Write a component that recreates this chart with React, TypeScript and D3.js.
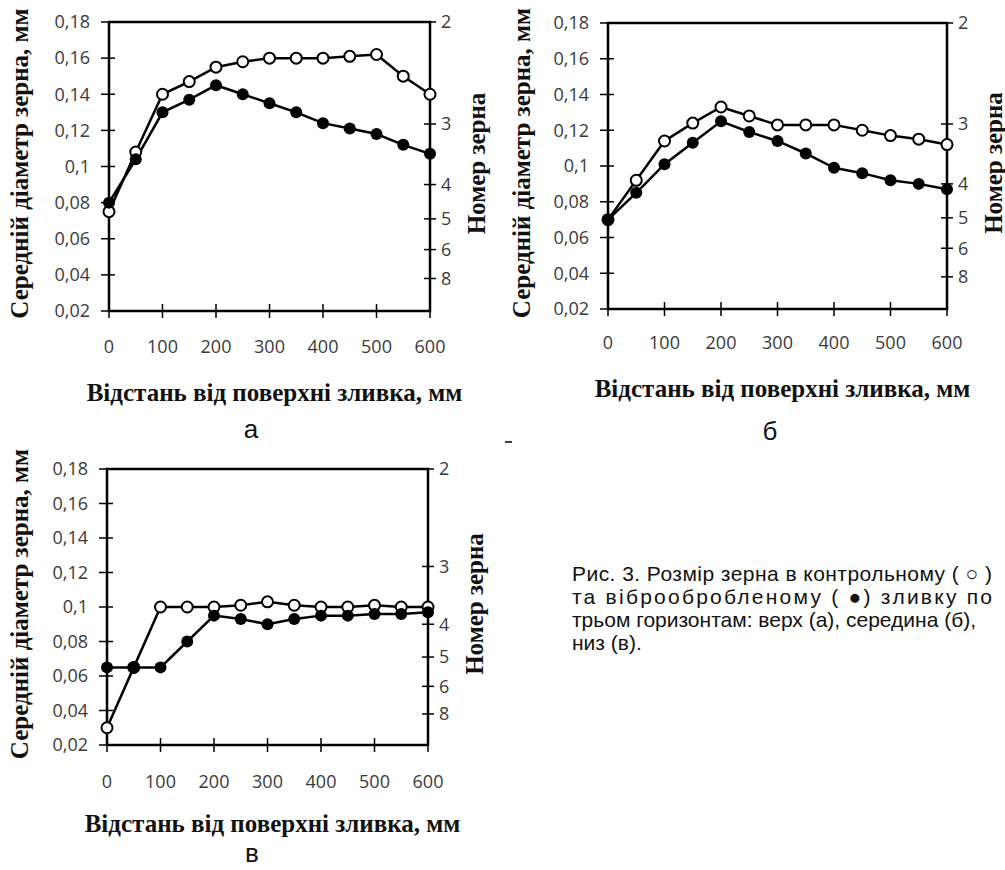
import React from 'react';
import * as d3 from 'd3';

// ---- data ----
const distances = [0, 50, 100, 150, 200, 250, 300, 350, 400, 450, 500, 550, 600];
const xTickValues = [0, 100, 200, 300, 400, 500, 600];
const yTickValues = [0.02, 0.04, 0.06, 0.08, 0.1, 0.12, 0.14, 0.16, 0.18];
const grainLabels = ['2', '3', '4', '5', '6', '8'];
const grainDiameters = [0.18, 0.1235, 0.09, 0.071, 0.054, 0.038];

const controlTop = [0.075, 0.108, 0.14, 0.147, 0.155, 0.158, 0.16, 0.16, 0.16, 0.161, 0.162, 0.15, 0.14];
const vibroTop = [0.08, 0.104, 0.13, 0.137, 0.145, 0.14, 0.135, 0.13, 0.124, 0.121, 0.118, 0.112, 0.107];

const controlMiddle = [0.07, 0.092, 0.114, 0.124, 0.133, 0.128, 0.123, 0.123, 0.123, 0.12, 0.117, 0.115, 0.112];
const vibroMiddle = [0.07, 0.085, 0.101, 0.113, 0.125, 0.119, 0.114, 0.107, 0.099, 0.096, 0.092, 0.09, 0.087];

const controlBottom = [0.03, 0.065, 0.1, 0.1, 0.1, 0.101, 0.103, 0.101, 0.1, 0.1, 0.101, 0.1, 0.1];
const vibroBottom = [0.065, 0.065, 0.065, 0.08, 0.095, 0.093, 0.09, 0.093, 0.095, 0.095, 0.096, 0.096, 0.097];

const yTitle = 'Середній діаметр зерна, мм';
const y2Title = 'Номер зерна';
const xTitle = 'Відстань від поверхні зливка, мм';
const captionLines = [
  'Рис. 3. Розмір зерна в контрольному ( ○ )',
  'та віброобробленому ( ●) зливку по',
  'трьом горизонтам: верх (а), середина (б),',
  'низ (в).',
];

// ---- layout ----
const panels = [
  { id: 'a', label: 'а', control: controlTop, vibro: vibroTop,
    left: 109, right: 430, top: 22, bottom: 311,
    xLabelDy: 42, xTitleY: 401, yTitleX: 28, y2TitleX: 467, labelX: 251, labelY: 438 },
  { id: 'b', label: 'б', control: controlMiddle, vibro: vibroMiddle,
    left: 608, right: 947, top: 23, bottom: 309,
    xLabelDy: 40, xTitleY: 397, yTitleX: 530, y2TitleX: 984, labelX: 770, labelY: 440 },
  { id: 'c', label: 'в', control: controlBottom, vibro: vibroBottom,
    left: 107, right: 428, top: 469, bottom: 745,
    xLabelDy: 43, xTitleY: 832, yTitleX: 28, y2TitleX: 465, labelX: 252, labelY: 862 },
];

const fmt = (v: number) => String(+v.toFixed(2)).replace('.', ',');

function Panel({ p }: { p: any }) {
  const x = d3.scaleLinear().domain([0, 600]).range([p.left, p.right]);
  const y = d3.scaleLinear().domain([0.02, 0.18]).range([p.bottom, p.top]);
  const line = d3.line<number>().x((_, i) => x(distances[i])).y((d) => y(d));
  const tickFont = { fontFamily: 'Open Sans, sans-serif', fontSize: 18, fill: '#3a3a3a' };
  const titleFont = { fontFamily: 'Liberation Serif, serif', fontWeight: 'bold' as const, fontSize: 25, fill: '#111' };
  const cx = (p.left + p.right) / 2;
  const cy = (p.top + p.bottom) / 2;
  return (
    <g>
      <rect x={p.left} y={p.top} width={p.right - p.left} height={p.bottom - p.top}
        fill="none" stroke="#000" strokeWidth={2.5} />
      {yTickValues.map((v) => (
        <g key={'y' + v}>
          <line x1={p.left - 8} x2={p.left + 6} y1={y(v)} y2={y(v)} stroke="#000" strokeWidth={1.5} />
          <text x={p.left - 19} y={y(v)} dy="0.35em" textAnchor="end" style={tickFont}>{fmt(v)}</text>
        </g>
      ))}
      {grainDiameters.map((v, i) => (
        <g key={'g' + i}>
          <line x1={p.right - 6} x2={p.right + 6} y1={y(v)} y2={y(v)} stroke="#000" strokeWidth={1.5} />
          <text x={p.right + 11} y={y(v)} dy="0.35em" textAnchor="start" style={tickFont}>{grainLabels[i]}</text>
        </g>
      ))}
      {xTickValues.map((v) => (
        <g key={'x' + v}>
          <line x1={x(v)} x2={x(v)} y1={p.bottom - 7} y2={p.bottom + 7} stroke="#000" strokeWidth={1.5} />
          <text x={x(v)} y={p.bottom + p.xLabelDy} textAnchor="middle" style={tickFont}>{v}</text>
        </g>
      ))}
      <path d={line(p.control) || ''} fill="none" stroke="#000" strokeWidth={2.5} />
      <path d={line(p.vibro) || ''} fill="none" stroke="#000" strokeWidth={2.5} />
      {p.control.map((d: number, i: number) => (
        <circle key={'c' + i} cx={x(distances[i])} cy={y(d)} r={5.5} fill="#fff" stroke="#000" strokeWidth={2} />
      ))}
      {p.vibro.map((d: number, i: number) => (
        <circle key={'v' + i} cx={x(distances[i])} cy={y(d)} r={6} fill="#000" />
      ))}
      <text x={cx + 5} y={p.xTitleY} textAnchor="middle" style={titleFont}>{xTitle}</text>
      <text transform={`translate(${p.yTitleX},${cy - 3}) rotate(-90)`} textAnchor="middle" style={titleFont}>{yTitle}</text>
      <text transform={`translate(${p.y2TitleX},${cy - 3}) rotate(-90)`} textAnchor="middle" dy="0.7em" style={titleFont}>{y2Title}</text>
      <text x={p.labelX} y={p.labelY} textAnchor="middle"
        style={{ fontFamily: 'Liberation Sans, Arial, sans-serif', fontSize: 26, fill: '#111' }}>{p.label}</text>
    </g>
  );
}

export default function App() {
  const capX = 572;
  const capFont = { fontFamily: 'Liberation Sans, Arial, sans-serif', fontSize: 21, fill: '#111' };
  const capWidths = [420, 420, 404, 0];
  return (
    <svg width={1005} height={870} style={{ position: 'absolute', left: 0, top: 0, background: '#fff' }}>
      <rect width={1005} height={870} fill="#fff" />
      {panels.map((p) => <Panel key={p.id} p={p} />)}
      <line x1={505} x2={512} y1={442} y2={442} stroke="#000" strokeWidth={1.5} />
      {captionLines.map((t, i) => (
        <text key={i} x={capX} y={581 + i * 23} style={capFont}
          {...(capWidths[i] ? { textLength: capWidths[i], lengthAdjust: 'spacing' } : {})}>{t}</text>
      ))}
    </svg>
  );
}
